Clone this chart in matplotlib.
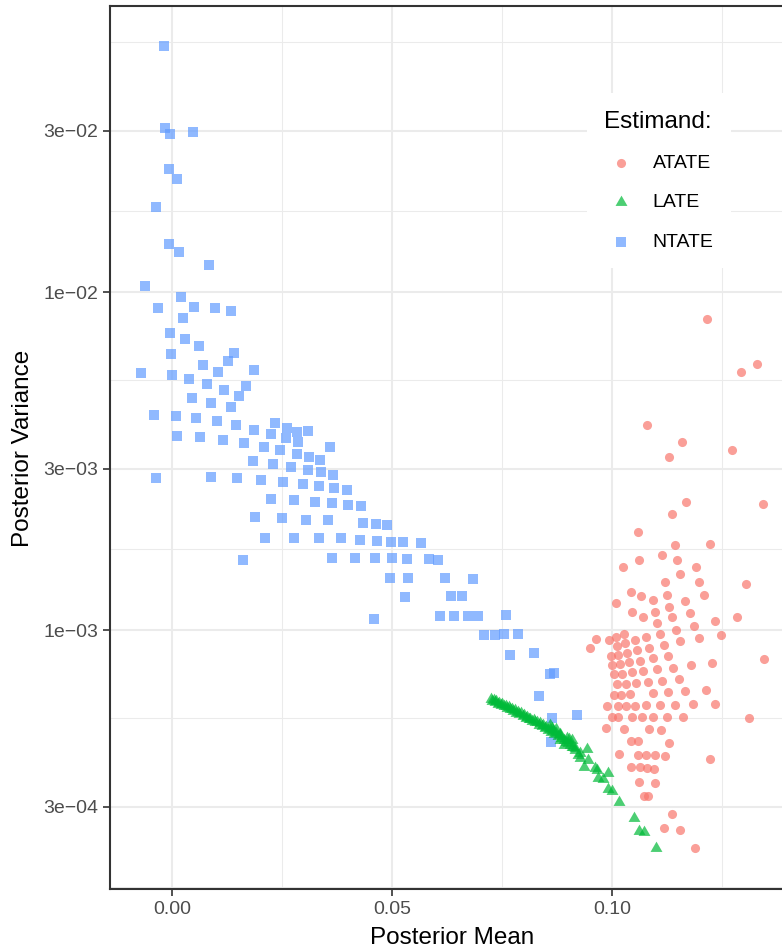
import matplotlib
matplotlib.use('Agg')
import matplotlib.pyplot as plt
from matplotlib.ticker import FixedLocator, FixedFormatter

plt.rcParams['font.family'] = ['Liberation Sans', 'DejaVu Sans']

# Estimand: NTATE (posterior mean, posterior variance)
ntate_mean = [
    -0.00175, -0.0015, -0.0004, 0.0048, -0.0006, 0.0012, -0.0036, -0.0006, 0.0017, 0.0085,
    -0.0061, 0.0021, -0.0031, 0.0051, 0.0098, 0.0135, 0.0026, -0.0004, 0.0030, 0.0062,
    -0.0002, 0.0142, 0.0128, 0.0071, -0.0070, 0.0001, 0.0105, 0.0187, 0.0039, 0.0080,
    0.0119, 0.0169, 0.0153, 0.0046, 0.0089, 0.0133, -0.0040, 0.0008, 0.0055, 0.0103,
    0.0146, 0.0187, 0.0235, 0.0262, 0.0285, 0.0310, 0.0012, 0.0064, 0.0117, 0.0164,
    0.0226, 0.0258, 0.0287, 0.0208, 0.0246, 0.0358, 0.0283, 0.0312, 0.0337, 0.0183,
    0.0230, 0.0271, 0.0308, 0.0339, 0.0367, -0.0036, 0.0089, 0.0148, 0.0203, 0.0253,
    0.0298, 0.0335, 0.0369, 0.0398, 0.0226, 0.0278, 0.0326, 0.0364, 0.0401, 0.0430,
    0.0189, 0.0251, 0.0305, 0.0355, 0.0433, 0.0464, 0.0489, 0.0212, 0.0278, 0.0335,
    0.0385, 0.0428, 0.0467, 0.0498, 0.0526, 0.0567, 0.0162, 0.0364, 0.0417, 0.0462,
    0.0501, 0.0535, 0.0585, 0.0605, 0.0496, 0.0537, 0.0621, 0.0685, 0.0530, 0.0635,
    0.0660, 0.0458, 0.0608, 0.0642, 0.0673, 0.0696, 0.0760, 0.0708, 0.0735, 0.0755,
    0.0787, 0.0769, 0.0823, 0.0858, 0.0869, 0.0835, 0.0864, 0.0921, 0.0862,
]
ntate_var = [
    5.34e-2, 3.05e-2, 2.93e-2, 2.97e-2, 2.31e-2, 2.16e-2, 1.79e-2, 1.39e-2, 1.31e-2, 1.20e-2,
    1.04e-2, 9.65e-3, 8.96e-3, 9.05e-3, 9.00e-3, 8.77e-3, 8.36e-3, 7.55e-3, 7.25e-3, 6.91e-3,
    6.55e-3, 6.60e-3, 6.24e-3, 6.07e-3, 5.75e-3, 5.67e-3, 5.79e-3, 5.87e-3, 5.52e-3, 5.33e-3,
    5.12e-3, 5.26e-3, 4.92e-3, 4.85e-3, 4.69e-3, 4.56e-3, 4.32e-3, 4.29e-3, 4.23e-3, 4.15e-3,
    4.03e-3, 3.90e-3, 4.09e-3, 3.95e-3, 3.85e-3, 3.87e-3, 3.74e-3, 3.72e-3, 3.64e-3, 3.57e-3,
    3.79e-3, 3.69e-3, 3.59e-3, 3.47e-3, 3.40e-3, 3.47e-3, 3.31e-3, 3.24e-3, 3.18e-3, 3.16e-3,
    3.09e-3, 3.03e-3, 2.97e-3, 2.93e-3, 2.87e-3, 2.81e-3, 2.83e-3, 2.81e-3, 2.77e-3, 2.74e-3,
    2.70e-3, 2.66e-3, 2.63e-3, 2.59e-3, 2.44e-3, 2.42e-3, 2.39e-3, 2.37e-3, 2.34e-3, 2.32e-3,
    2.16e-3, 2.14e-3, 2.12e-3, 2.11e-3, 2.08e-3, 2.06e-3, 2.05e-3, 1.87e-3, 1.87e-3, 1.87e-3,
    1.87e-3, 1.85e-3, 1.83e-3, 1.82e-3, 1.82e-3, 1.81e-3, 1.61e-3, 1.63e-3, 1.63e-3, 1.63e-3,
    1.63e-3, 1.62e-3, 1.62e-3, 1.61e-3, 1.43e-3, 1.43e-3, 1.43e-3, 1.42e-3, 1.25e-3, 1.26e-3,
    1.26e-3, 1.08e-3, 1.10e-3, 1.10e-3, 1.10e-3, 1.10e-3, 1.11e-3, 9.66e-4, 9.66e-4, 9.72e-4,
    9.72e-4, 8.41e-4, 8.53e-4, 7.40e-4, 7.45e-4, 6.37e-4, 5.48e-4, 5.59e-4, 4.65e-4,
]

# Estimand: ATATE
atate_mean = [
    0.1215, 0.1293, 0.1330, 0.1079, 0.1160, 0.1130, 0.1273, 0.1168, 0.1343, 0.1136,
    0.1060, 0.1143, 0.1223, 0.1113, 0.1061, 0.1148, 0.1026, 0.1191, 0.1154, 0.1120,
    0.1198, 0.1305, 0.1043, 0.1065, 0.1124, 0.1209, 0.1009, 0.1094, 0.1167, 0.1130,
    0.1045, 0.1098, 0.1070, 0.1177, 0.1137, 0.1284, 0.1102, 0.1233, 0.1186, 0.1145,
    0.1110, 0.1248, 0.0964, 0.0994, 0.1009, 0.1027, 0.1052, 0.1078, 0.1198, 0.1155,
    0.0949, 0.1011, 0.1030, 0.1085, 0.1118, 0.0997, 0.1014, 0.1033, 0.1057, 0.1093,
    0.1127, 0.1000, 0.1018, 0.1039, 0.1064, 0.1139, 0.1180, 0.1228, 0.1345, 0.1005,
    0.1023, 0.1045, 0.1071, 0.1102, 0.1011, 0.1031, 0.1054, 0.1081, 0.1114, 0.1152,
    0.1005, 0.1021, 0.1041, 0.1093, 0.1127, 0.1167, 0.1214, 0.0988, 0.1014, 0.1032,
    0.1053, 0.1078, 0.1108, 0.1143, 0.1185, 0.1233, 0.0999, 0.1013, 0.1045, 0.1068,
    0.1093, 0.1124, 0.1161, 0.1311, 0.0986, 0.1027, 0.1083, 0.1111, 0.1043, 0.1058,
    0.1129, 0.1017, 0.1058, 0.1077, 0.1097, 0.1120, 0.1223, 0.1043, 0.1064, 0.1079,
    0.1096, 0.1061, 0.1098, 0.1073, 0.1081, 0.1136, 0.1118, 0.1155, 0.1189,
]
atate_var = [
    8.32e-3, 5.81e-3, 6.12e-3, 4.03e-3, 3.59e-3, 3.26e-3, 3.41e-3, 2.39e-3, 2.36e-3, 2.21e-3,
    1.95e-3, 1.78e-3, 1.80e-3, 1.67e-3, 1.61e-3, 1.61e-3, 1.54e-3, 1.54e-3, 1.46e-3, 1.39e-3,
    1.39e-3, 1.37e-3, 1.30e-3, 1.26e-3, 1.27e-3, 1.27e-3, 1.20e-3, 1.23e-3, 1.22e-3, 1.17e-3,
    1.13e-3, 1.13e-3, 1.09e-3, 1.12e-3, 1.09e-3, 1.09e-3, 1.05e-3, 1.06e-3, 1.03e-3, 9.98e-4,
    9.73e-4, 9.69e-4, 9.43e-4, 9.35e-4, 9.55e-4, 9.71e-4, 9.33e-4, 9.53e-4, 9.47e-4, 9.25e-4,
    8.86e-4, 8.99e-4, 9.14e-4, 8.86e-4, 9.03e-4, 8.36e-4, 8.44e-4, 8.57e-4, 8.72e-4, 8.25e-4,
    8.39e-4, 7.88e-4, 7.93e-4, 8.03e-4, 8.12e-4, 7.71e-4, 7.86e-4, 7.97e-4, 8.20e-4, 7.40e-4,
    7.43e-4, 7.50e-4, 7.57e-4, 7.65e-4, 6.91e-4, 6.94e-4, 6.99e-4, 7.04e-4, 7.08e-4, 7.15e-4,
    6.44e-4, 6.44e-4, 6.47e-4, 6.53e-4, 6.55e-4, 6.60e-4, 6.64e-4, 5.95e-4, 5.96e-4, 5.97e-4,
    5.97e-4, 5.98e-4, 5.98e-4, 6.01e-4, 6.04e-4, 6.05e-4, 5.52e-4, 5.52e-4, 5.52e-4, 5.52e-4,
    5.52e-4, 5.52e-4, 5.52e-4, 5.50e-4, 5.12e-4, 5.10e-4, 5.09e-4, 5.07e-4, 4.69e-4, 4.69e-4,
    4.62e-4, 4.31e-4, 4.28e-4, 4.27e-4, 4.26e-4, 4.24e-4, 4.16e-4, 3.93e-4, 3.92e-4, 3.90e-4,
    3.89e-4, 3.55e-4, 3.52e-4, 3.23e-4, 3.23e-4, 2.86e-4, 2.59e-4, 2.56e-4, 2.27e-4,
]

# Estimand: LATE
late_mean = [
    0.0724, 0.0727, 0.0731, 0.0734, 0.0737, 0.0741, 0.0744, 0.0748, 0.0751, 0.0754,
    0.0758, 0.0761, 0.0765, 0.0768, 0.0772, 0.0775, 0.0779, 0.0782, 0.0786, 0.0789,
    0.0793, 0.0797, 0.0800, 0.0804, 0.0807, 0.0811, 0.0814, 0.0818, 0.0822, 0.0825,
    0.0829, 0.0833, 0.0836, 0.0840, 0.0843, 0.0847, 0.0851, 0.0855, 0.0858, 0.0862,
    0.0866, 0.0869, 0.0873, 0.0877, 0.0881, 0.0885, 0.0890, 0.0895, 0.0900, 0.0905,
    0.0910, 0.0916,
    0.0859, 0.0863, 0.0873, 0.0882, 0.0882, 0.0891, 0.0898, 0.0902, 0.0908, 0.0912,
    0.0916, 0.0923, 0.0927, 0.0927, 0.0961,
    0.0943, 0.0946, 0.0992, 0.0936, 0.0965, 0.0969, 0.0979, 0.0990, 0.1001, 0.1015,
    0.1051, 0.1061, 0.1073, 0.1099,
]
late_var = [
    6.24e-4, 6.17e-4, 6.20e-4, 6.12e-4, 6.15e-4, 6.05e-4, 6.09e-4, 6.00e-4, 6.03e-4, 5.94e-4,
    5.97e-4, 5.88e-4, 5.90e-4, 5.84e-4, 5.85e-4, 5.76e-4, 5.79e-4, 5.70e-4, 5.72e-4, 5.64e-4,
    5.67e-4, 5.57e-4, 5.60e-4, 5.50e-4, 5.53e-4, 5.45e-4, 5.47e-4, 5.38e-4, 5.41e-4, 5.33e-4,
    5.36e-4, 5.25e-4, 5.29e-4, 5.19e-4, 5.24e-4, 5.13e-4, 5.17e-4, 5.06e-4, 5.10e-4, 4.99e-4,
    5.03e-4, 4.93e-4, 4.96e-4, 4.86e-4, 4.89e-4, 4.80e-4, 4.74e-4, 4.67e-4, 4.62e-4, 4.58e-4,
    4.52e-4, 4.48e-4,
    5.24e-4, 5.12e-4, 5.10e-4, 4.72e-4, 4.94e-4, 4.56e-4, 4.78e-4, 4.75e-4, 4.72e-4, 4.50e-4,
    4.42e-4, 4.27e-4, 4.19e-4, 4.32e-4, 3.90e-4,
    4.46e-4, 4.12e-4, 3.78e-4, 3.94e-4, 3.85e-4, 3.66e-4, 3.62e-4, 3.38e-4, 3.34e-4, 3.09e-4,
    2.77e-4, 2.54e-4, 2.52e-4, 2.26e-4,
]

x_ticks = [0.0, 0.05, 0.10]
x_labels = ['0.00', '0.05', '0.10']
x_minor = [-0.025, 0.025, 0.075, 0.125]
y_ticks = [3e-4, 1e-3, 3e-3, 1e-2, 3e-2]
y_labels = ['3e\u221204', '1e\u221203', '3e\u221203', '1e\u221202', '3e\u221202']
y_minor = [1.732e-4, 5.477e-4, 1.732e-3, 5.477e-3, 1.732e-2, 5.477e-2]

fig = plt.figure(figsize=(7.82, 9.49), dpi=100)
ax = fig.add_axes([110 / 782, 60 / 949, 684 / 782, 883 / 949])

tri = [(-1, -0.577), (1, -0.577), (0, 1.155)]
ax.scatter(ntate_mean, ntate_var, marker='s', s=46, color='#619CFF', alpha=0.7,
           linewidths=0, label='NTATE', zorder=2)
ax.scatter(atate_mean, atate_var, marker='o', s=43, color='#F8766D', alpha=0.7,
           linewidths=0, label='ATATE', zorder=2)
ax.scatter(late_mean, late_var, marker=tri, s=98, color='#00BA38', alpha=0.7,
           linewidths=0, label='LATE', zorder=3)

ax.set_yscale('log')
ax.set_xlim(-0.01409, 0.14136)
ax.set_ylim(1.713e-4, 0.0702)

ax.xaxis.set_major_locator(FixedLocator(x_ticks))
ax.xaxis.set_major_formatter(FixedFormatter(x_labels))
ax.xaxis.set_minor_locator(FixedLocator(x_minor))
ax.yaxis.set_major_locator(FixedLocator(y_ticks))
ax.yaxis.set_major_formatter(FixedFormatter(y_labels))
ax.yaxis.set_minor_locator(FixedLocator(y_minor))
ax.yaxis.set_minor_formatter(FixedFormatter([''] * len(y_minor)))

ax.set_axisbelow(True)
ax.grid(which='major', color='#EBEBEB', linewidth=1.5)
ax.grid(which='minor', color='#EBEBEB', linewidth=0.75)
ax.tick_params(which='major', length=5, width=1.2, color='#333333',
               labelcolor='#4D4D4D', labelsize=14, pad=3.5)
ax.tick_params(which='minor', length=0)

for side in ['left', 'bottom', 'top', 'right']:
    ax.spines[side].set_color('#333333')
    ax.spines[side].set_linewidth(1.5)

fig.text(452 / 782, 1 - 944 / 949, 'Posterior Mean', fontsize=17.5,
         ha='center', va='baseline')
fig.text(23 / 782, 1 - 448 / 949, 'Posterior Variance', fontsize=17.5,
         ha='center', va='center', rotation=90)

handles, labels = ax.get_legend_handles_labels()
order = [labels.index(n) for n in ['ATATE', 'LATE', 'NTATE']]
leg = ax.legend([handles[i] for i in order], [labels[i] for i in order],
                title='Estimand:', loc='upper left',
                bbox_to_anchor=(587 / 782, 1 - 93 / 949), bbox_transform=fig.transFigure,
                frameon=True, facecolor='white', edgecolor='none', framealpha=1,
                fancybox=False, fontsize=14, title_fontsize=17.5, alignment='left',
                borderpad=0.9, labelspacing=1.12, handlelength=1.7, handletextpad=0.78,
                borderaxespad=0, scatterpoints=1)

fig.savefig('out.png', dpi=100)
